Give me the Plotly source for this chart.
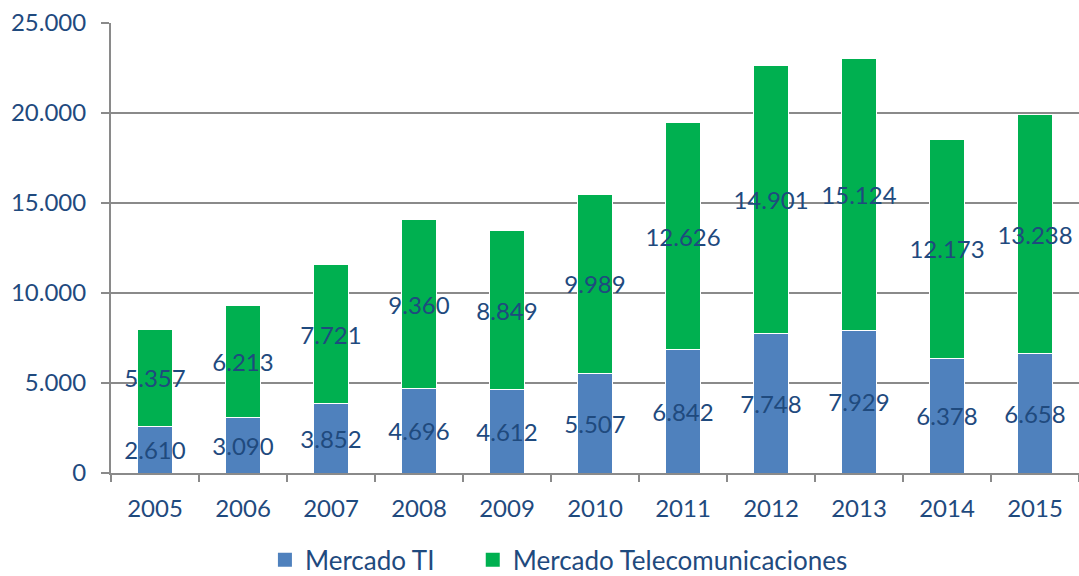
import plotly.graph_objects as go

years = ["2005", "2006", "2007", "2008", "2009", "2010", "2011", "2012", "2013", "2014", "2015"]
mercado_ti = [2610, 3090, 3852, 4696, 4612, 5507, 6842, 7748, 7929, 6378, 6658]
mercado_tel = [5357, 6213, 7721, 9360, 8849, 9989, 12626, 14901, 15124, 12173, 13238]
series_names = ["Mercado TI", "Mercado Telecomunicaciones"]
series_colors = ["#4F81BD", "#00B050"]

FONT = "Lato"
TXT = "#1F4A7E"
GRID = "#8A8A8A"

fig = go.Figure()
for vals, name, col in zip([mercado_ti, mercado_tel], series_names, series_colors):
    fig.add_trace(go.Bar(
        x=years, y=vals, name=name, showlegend=False,
        marker=dict(color=col, line=dict(color="white", width=1)),
        text=vals, texttemplate="%{y:,}", textposition="inside",
        insidetextanchor="middle", textangle=0, constraintext="none",
        textfont=dict(family=FONT, size=24, color=TXT),
    ))
# legend entries (square swatches); trailing nbsp widens the gap between entries
for i, (name, col) in enumerate(zip(series_names, series_colors)):
    label = name + ("\u00a0" * 5 if i == 0 else "")
    fig.add_trace(go.Scatter(
        x=[None], y=[None], mode="markers", name=label,
        marker=dict(symbol="square", size=14, color=col),
    ))

fig.update_layout(
    barmode="stack",
    bargap=0.61,
    separators=",.",
    width=1079, height=576,
    margin=dict(l=111, r=0, t=23, b=103),
    plot_bgcolor="white", paper_bgcolor="white",
    font=dict(family=FONT, size=24, color=TXT),
    showlegend=True,
    legend=dict(orientation="h", xref="container", yref="container",
                x=0.518, xanchor="center", y=0.028, yanchor="middle",
                font=dict(family=FONT, size=26, color=TXT),
                itemwidth=30, traceorder="normal"),
)
fig.update_xaxes(
    showline=True, linecolor=GRID, linewidth=2,
    ticks="outside", tickson="boundaries", ticklen=7, tickcolor=GRID, tickwidth=2,
    showgrid=False, tickfont=dict(family=FONT, size=24, color=TXT),
    ticklabelstandoff=13,
)
fig.update_yaxes(
    range=[0, 25000], dtick=5000, tickformat=",d",
    showline=True, linecolor=GRID, linewidth=2,
    ticks="outside", ticklen=8, tickcolor=GRID, tickwidth=2,
    showgrid=True, gridcolor=GRID, gridwidth=2, zeroline=False,
    tickfont=dict(family=FONT, size=24, color=TXT),
    ticklabelstandoff=10,
)

fig.write_html("out.html", config={"displayModeBar": False},
               post_script="document.body.style.margin='0px';document.body.style.overflow='hidden';")
